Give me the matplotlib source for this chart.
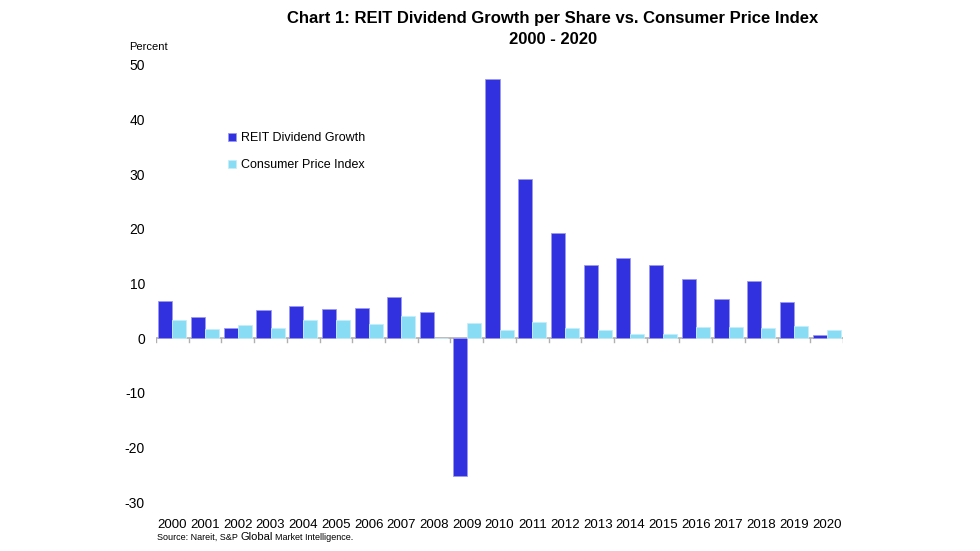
import matplotlib
matplotlib.use("Agg")
import matplotlib.pyplot as plt
import numpy as np

years = [str(y) for y in range(2000, 2021)]
reit_growth = [6.8, 3.8, 1.9, 5.2, 5.9, 5.4, 5.6, 7.5, 4.7, -25.3, 47.5,
               29.2, 19.3, 13.3, 14.7, 13.3, 10.9, 7.1, 10.4, 6.7, 0.5]
cpi = [3.4, 1.6, 2.4, 1.9, 3.3, 3.4, 2.5, 4.1, 0.1, 2.7, 1.5,
       3.0, 1.8, 1.5, 0.8, 0.7, 2.1, 2.1, 1.9, 2.3, 1.4]
yticks = [50, 40, 30, 20, 10, 0, -10, -20, -30]

plt.rcParams['font.family'] = ['Liberation Sans', 'DejaVu Sans']

fig = plt.figure(figsize=(9.8, 5.51), dpi=100)
ax = fig.add_axes([156/980, 1-502/551, (843-156)/980, (502-65)/551])

x = np.arange(len(years))
w = 0.43
ax.bar(x - w/2, reit_growth, width=w, color='#3131E0', edgecolor='#9A9AF0',
       linewidth=0.6, label='REIT Dividend Growth', zorder=2)
ax.bar(x + w/2, cpi, width=w, color='#88DDF5', edgecolor='#C6EEFA',
       linewidth=0.6, label='Consumer Price Index', zorder=2)

ax.set_xlim(-0.5, len(years) - 0.5)
ax.set_ylim(-30, 50)
for s in ax.spines.values():
    s.set_visible(False)

# zero axis with category boundary ticks
ax.axhline(0, color='#B0B0B0', linewidth=1.2, zorder=1)
for b in np.arange(-0.5, len(years), 1.0):
    ax.plot([b, b], [0, -0.8], color='#B0B0B0', linewidth=1.0, zorder=1)

ax.set_yticks(yticks)
ax.set_yticklabels([str(v) for v in yticks], fontsize=10)
ax.tick_params(axis='y', length=0, pad=8)
ax.set_xticks(x)
ax.set_xticklabels(years, fontsize=9.5)
ax.tick_params(axis='x', length=0, pad=12)

fig.text(553/980, 1-18/551, 'Chart 1: REIT Dividend Growth per Share vs. Consumer Price Index',
         ha='center', va='center', fontsize=12, fontweight='bold',
         family=['Liberation Sans Narrow', 'Liberation Sans', 'DejaVu Sans'])
fig.text(553/980, 1-40/551, '2000 - 2020',
         ha='center', va='center', fontsize=12, fontweight='bold',
         family=['Liberation Sans Narrow', 'Liberation Sans', 'DejaVu Sans'])
fig.text(129/980, 1-47/551, 'Percent', ha='left', va='center', fontsize=8)

leg = ax.legend(loc='upper left', bbox_to_anchor=((217-156)/687, 1-(121-65)/437),
                frameon=False, fontsize=9, handlelength=0.6, handleheight=0.6,
                handletextpad=0.4, labelspacing=1.2)

t1 = fig.text(157/980, 1-537/551, 'Source: Nareit, S&P ', ha='left', va='center', fontsize=6.5)
fig.canvas.draw()
r = fig.canvas.get_renderer()
bb = t1.get_window_extent(r)
t2 = fig.text(bb.x1/980, 1-537/551, 'Global', ha='left', va='center', fontsize=8)
bb2 = t2.get_window_extent(r)
fig.text(bb2.x1/980 + 2/980, 1-537/551, 'Market Intelligence.', ha='left', va='center', fontsize=6.5)

fig.savefig('out.png', dpi=100)
